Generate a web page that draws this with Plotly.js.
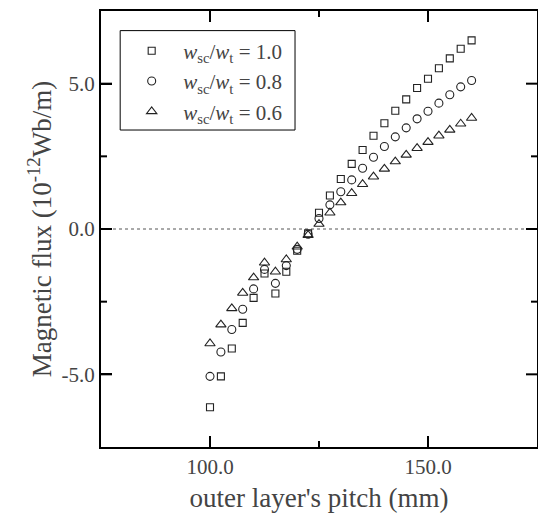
<!DOCTYPE html>
<html>
<head>
<meta charset="utf-8">
<script src="https://cdn.plot.ly/plotly-3.0.1.min.js"></script>
<style>html,body{margin:0;padding:0;background:#fff;} .c{width:538px;height:519px;}</style>
</head>
<body>
<div id="chart" class="c"></div>
<script>
const pitch = [100,102.5,105,107.5,110,112.5,115,117.5,120,122.5,125,127.5,130,132.5,135,137.5,140,142.5,145,147.5,150,152.5,155,157.5,160];
const flux10 = [-6.13,-5.07,-4.11,-3.23,-2.37,-1.53,-2.22,-1.47,-0.75,-0.15,0.56,1.15,1.72,2.24,2.72,3.21,3.64,4.07,4.46,4.85,5.17,5.53,5.87,6.20,6.49];
const flux08 = [-5.07,-4.23,-3.46,-2.76,-2.06,-1.39,-1.87,-1.26,-0.70,-0.18,0.36,0.83,1.28,1.69,2.09,2.47,2.84,3.17,3.48,3.79,4.05,4.33,4.62,4.89,5.11];
const flux06 = [-3.94,-3.29,-2.73,-2.20,-1.67,-1.16,-1.47,-1.05,-0.61,-0.21,0.17,0.56,0.91,1.23,1.54,1.80,2.07,2.32,2.55,2.78,2.99,3.21,3.41,3.62,3.82];
const seriesNames = ['<i>w</i><sub>sc</sub>/<i>w</i><sub>t</sub> = 1.0','<i>w</i><sub>sc</sub>/<i>w</i><sub>t</sub> = 0.8','<i>w</i><sub>sc</sub>/<i>w</i><sub>t</sub> = 0.6'];
const xRange = [75, 175];
const yRange = [-7.5, 7.5];
const xTickVals = [100, 150];
const xTickText = ['100.0', '150.0'];
const xMinorVals = [125];
const yTickVals = [-5, 0, 5];
const yTickText = ['-5.0', '0.0', '5.0'];
const yMinorVals = [-2.5, 2.5];

const serif = 'Times New Roman';
const mk = (sym, sz) => ({symbol: sym, size: sz, color: '#222', line: {color: '#222', width: 1.1}});
const data = [
  {x: pitch, y: flux10, mode: 'markers', type: 'scatter', name: seriesNames[0], marker: mk('square-open', 7)},
  {x: pitch, y: flux08, mode: 'markers', type: 'scatter', name: seriesNames[1], marker: mk('circle-open', 8)},
  {x: pitch, y: flux06, mode: 'markers', type: 'scatter', name: seriesNames[2], marker: mk('triangle-up-open', 9)}
];
const tickStyle = () => ({
  showline: true, linecolor: 'black', linewidth: 2, mirror: true,
  ticks: 'inside', ticklen: 11, tickwidth: 2, tickcolor: 'black',
  showgrid: false, zeroline: false,
  tickfont: {family: serif, size: 21}
});
// tick marks on all four sides, placed through the axes' scales
const tickLine = {color: 'black', width: 2};
const xTickShapes = [];
xTickVals.forEach(v => {
  xTickShapes.push({type: 'line', xref: 'x', yref: 'paper', ysizemode: 'pixel', yanchor: 0, x0: v, x1: v, y0: 0, y1: 11, line: tickLine});
  xTickShapes.push({type: 'line', xref: 'x', yref: 'paper', ysizemode: 'pixel', yanchor: 1, x0: v, x1: v, y0: 0, y1: -11, line: tickLine});
});
xMinorVals.forEach(v => {
  xTickShapes.push({type: 'line', xref: 'x', yref: 'paper', ysizemode: 'pixel', yanchor: 0, x0: v, x1: v, y0: 0, y1: 6, line: tickLine});
  xTickShapes.push({type: 'line', xref: 'x', yref: 'paper', ysizemode: 'pixel', yanchor: 1, x0: v, x1: v, y0: 0, y1: -6, line: tickLine});
});
const yTickShapes = [];
yTickVals.forEach(v => {
  yTickShapes.push({type: 'line', xref: 'paper', yref: 'y', xsizemode: 'pixel', xanchor: 0, y0: v, y1: v, x0: 0, x1: 11, line: tickLine});
  yTickShapes.push({type: 'line', xref: 'paper', yref: 'y', xsizemode: 'pixel', xanchor: 1, y0: v, y1: v, x0: 0, x1: -11, line: tickLine});
});
yMinorVals.forEach(v => {
  yTickShapes.push({type: 'line', xref: 'paper', yref: 'y', xsizemode: 'pixel', xanchor: 0, y0: v, y1: v, x0: 0, x1: 6, line: tickLine});
  yTickShapes.push({type: 'line', xref: 'paper', yref: 'y', xsizemode: 'pixel', xanchor: 1, y0: v, y1: v, x0: 0, x1: -6, line: tickLine});
});
const layout = {
  width: 538, height: 519,
  margin: {l: 101, r: 1, t: 11, b: 72},
  showlegend: true,
  legend: {x: 0.044, y: 0.955, xanchor: 'left', yanchor: 'top',
    bgcolor: 'rgba(0,0,0,0)', borderwidth: 0,
    font: {family: serif, size: 21}, itemwidth: 53, tracegroupgap: 0},
  xaxis: Object.assign(tickStyle(), {
    range: xRange, tickmode: 'array', tickvals: xTickVals, ticktext: xTickText,
    title: {text: "outer layer's pitch (mm)", font: {family: serif, size: 27}, standoff: 10}
  }),
  yaxis: Object.assign(tickStyle(), {
    range: yRange, tickmode: 'array', tickvals: yTickVals, ticktext: yTickText,
    title: {text: 'Magnetic flux (10<sup>-12</sup>Wb/m)', font: {family: serif, size: 27}, standoff: 2}
  }),
  shapes: [
    {type: 'line', xref: 'paper', yref: 'y', x0: 0, x1: 1, y0: 0, y1: 0, line: {color: '#555', width: 1, dash: 'dot'}, layer: 'below'},
    {type: 'rect', xref: 'paper', yref: 'paper', x0: 0.044, x1: 0.445, y0: 0.727, y1: 0.955, line: {color: 'black', width: 1}}
  ].concat(xTickShapes, yTickShapes)
};
Plotly.newPlot('chart', data, layout, {displayModeBar: false});
</script>
</body>
</html>
